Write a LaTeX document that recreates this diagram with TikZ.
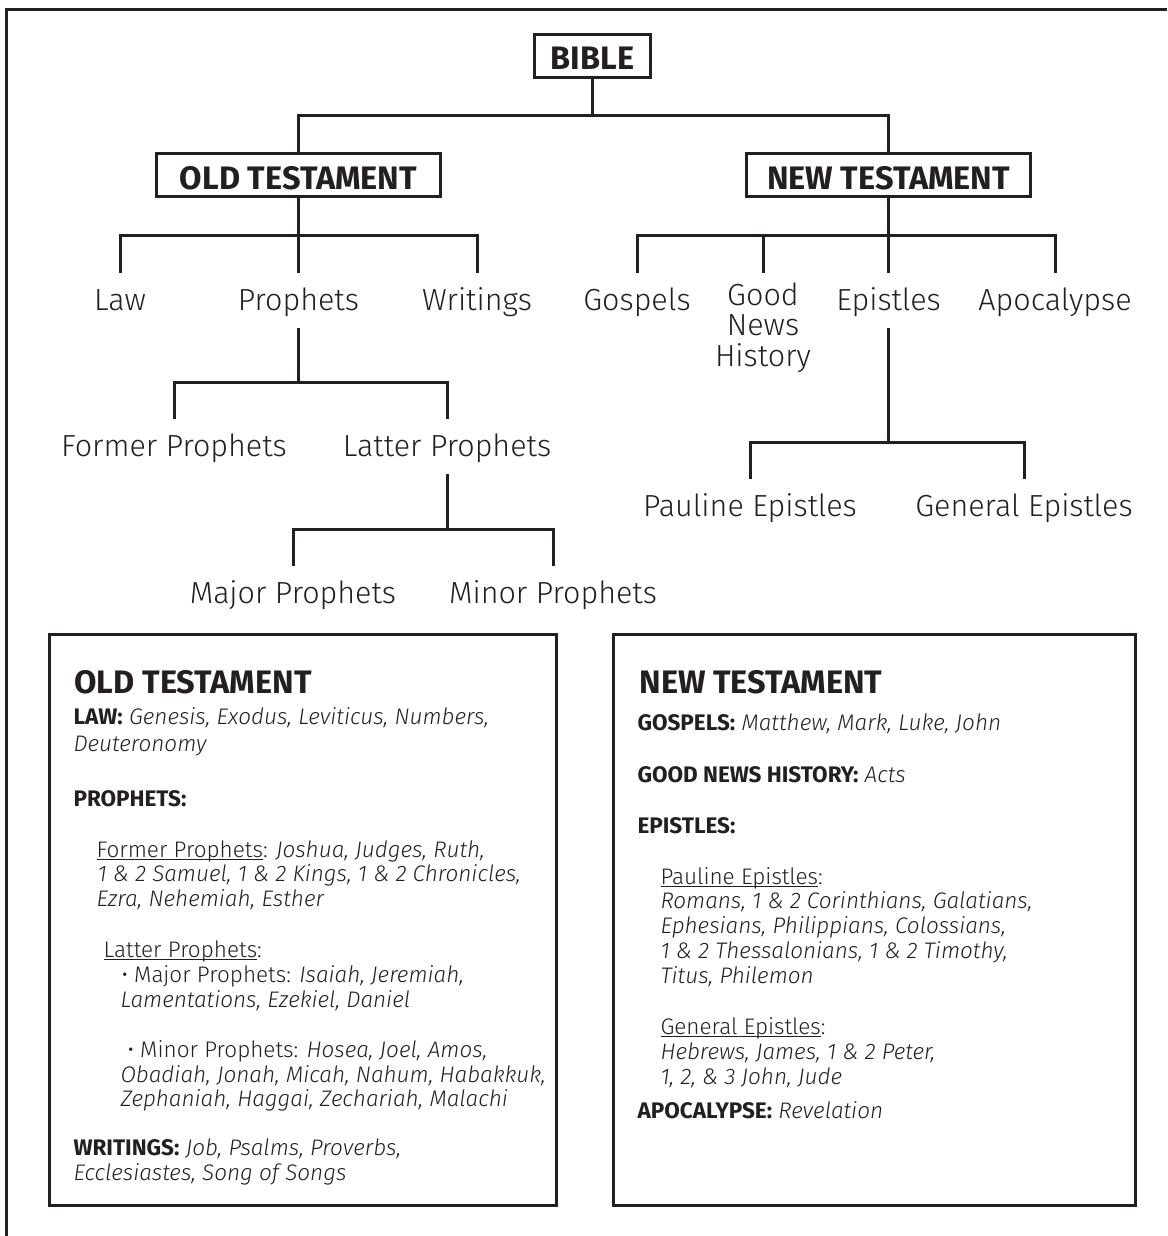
\documentclass[tikz,border=0pt]{standalone}
\usepackage{fontspec}
\setmainfont{Fira Sans}[UprightFont={* Light}, ItalicFont={* Light Italic}, BoldFont={* Bold}, BoldItalicFont={* Bold Italic}]
\definecolor{ink}{RGB}{35,31,32}
\newcommand\ulline[1]{\setbox0\hbox{#1}\rlap{\rule[-3pt]{\wd0}{1.4pt}}\box0}
\begin{document}
\begin{tikzpicture}[x=1pt,y=-1pt, ink, line width=3pt,
  tbox/.style={draw, line width=3pt, inner sep=0pt, text height=28pt, text depth=0pt, font=\bfseries\fontsize{32.5}{32}\selectfont},
  lbl/.style={anchor=north, inner xsep=0pt, inner ysep=14pt, text height=22pt, text depth=2pt, font=\fontsize{30.5}{31}\selectfont},
  body/.style={anchor=base west, inner sep=0pt, font=\fontsize{22.5}{25}\selectfont},
  hdr/.style={anchor=base west, inner sep=0pt, font=\bfseries\fontsize{32.5}{32}\selectfont},
  panel/.style={draw, line width=3pt, inner sep=0pt}]
\useasboundingbox (0,0) rectangle (1167,1236);
% outer frame (cropped)
\draw (6.5,1236) |- (1167,9.5);
% branch levels
\coordinate (y1) at (0,116);
\coordinate (y2) at (0,235);
\coordinate (y3) at (0,382);
\coordinate (y4) at (0,529);
\coordinate (y5) at (0,442);
% boxes
\node[tbox, minimum width=116pt, minimum height=43pt] (bible) at (592.5,56) {BIBLE};
\node[tbox, minimum width=284pt, minimum height=43pt] (ot) at (298.5,175) {OLD TESTAMENT};
\node[tbox, minimum width=284pt, minimum height=43pt] (nt) at (888.5,175) {NEW TESTAMENT};
% labels
\node[lbl] (law) at (120,273) {Law};
\node[lbl] (prophets) at (298.5,273) {Prophets};
\node[lbl] (writings) at (477,273) {Writings};
\node[lbl] (gospels) at (637,273) {Gospels};
\node[anchor=north, inner xsep=0pt, inner ysep=8pt, align=center, font=\fontsize{30.5}{30.5}\selectfont] (goodnews) at (763,273) {Good\\News\\History};
\node[lbl] (epistles) at (888.5,273) {Epistles};
\node[lbl] (apoc) at (1055,273) {Apocalypse};
\node[lbl] (former) at (174,419) {Former Prophets};
\node[lbl] (latter) at (447,419) {Latter Prophets};
\node[lbl] (major) at (293,566) {Major Prophets};
\node[lbl] (minor) at (553,566) {Minor Prophets};
\node[lbl] (pauline) at (750,479) {Pauline Epistles};
\node[lbl] (general) at (1024,479) {General Epistles};
% connectors
\draw (bible.south) -- (bible.south |- y1);
\draw (ot.north) |- (nt.north |- y1) -- (nt.north);
\draw (ot.south) -- (ot.south |- y2);
\draw (law.north) |- (writings.north |- y2) -- (writings.north);
\draw (prophets.north) -- (prophets.north |- y2);
\draw (nt.south) -- (nt.south |- y2);
\draw (gospels.north) |- (apoc.north |- y2) -- (apoc.north);
\draw (goodnews.north) -- (goodnews.north |- y2);
\draw (epistles.north) -- (epistles.north |- y2);
\draw (prophets.south) -- (prophets.south |- y3);
\draw (former.north) |- (latter.north |- y3) -- (latter.north);
\draw (latter.south) -- (latter.south |- y4);
\draw (major.north) |- (minor.north |- y4) -- (minor.north);
\draw (epistles.south) -- (epistles.south |- y5);
\draw (pauline.north) |- (general.north |- y5) -- (general.north);
% panels
\node[panel, minimum width=507pt, minimum height=571pt] (otpanel) at (303,920) {};
\node[panel, minimum width=522pt, minimum height=571pt] (ntpanel) at (874.5,920) {};
% left panel text
\node[hdr] (lh) at (73,693) {OLD TESTAMENT};
\node[body] (l1) at (72,724) {\textbf{LAW:} \textit{Genesis, Exodus, Leviticus, Numbers,}};
\node[body] (l2) at (72,751) {\textit{Deuteronomy}};
\node[body] (l3) at (72,806) {\textbf{PROPHETS:}};
\node[body] (l4) at (95,857) {\ulline{Former Prophets}: \textit{Joshua, Judges, Ruth,}};
\node[body] (l5) at (96,881) {\textit{1 \& 2 Samuel, 1 \& 2 Kings, 1 \& 2 Chronicles,}};
\node[body] (l6) at (95,906) {\textit{Ezra, Nehemiah, Esther}};
\node[body] (l7) at (102,957) {\ulline{Latter Prophets}:};
\node[body] (l8) at (120,982) {\textbullet\ Major Prophets: \textit{Isaiah, Jeremiah,}};
\node[body] (l9) at (119,1007) {\textit{Lamentations, Ezekiel, Daniel}};
\node[body] (l10) at (126,1057) {\textbullet\ Minor Prophets: \textit{Hosea, Joel, Amos,}};
\node[body] (l11) at (119,1082) {\textit{Obadiah, Jonah, Micah, Nahum, Habakkuk,}};
\node[body] (l12) at (119,1106) {\textit{Zephaniah, Haggai, Zechariah, Malachi}};
\node[body] (l13) at (72,1155) {\textbf{WRITINGS:} \textit{Job, Psalms, Proverbs,}};
\node[body] (l14) at (72,1180) {\textit{Ecclesiastes, Song of Songs}};
% right panel text
\node[hdr] (rh) at (638,693) {NEW TESTAMENT};
\node[body] (r1) at (636,730) {\textbf{GOSPELS:} \textit{Matthew, Mark, Luke, John}};
\node[body] (r2) at (636,782) {\textbf{GOOD NEWS HISTORY:} \textit{Acts}};
\node[body] (r3) at (636,833) {\textbf{EPISTLES:}};
\node[body] (r4) at (659,884) {\ulline{Pauline Epistles}:};
\node[body] (r5) at (659,908) {\textit{Romans, 1 \& 2 Corinthians, Galatians,}};
\node[body] (r6) at (659,933) {\textit{Ephesians, Philippians, Colossians,}};
\node[body] (r7) at (659,958) {\textit{1 \& 2 Thessalonians, 1 \& 2 Timothy,}};
\node[body] (r8) at (659,983) {\textit{Titus, Philemon}};
\node[body] (r9) at (659,1034) {\ulline{General Epistles}:};
\node[body] (r10) at (659,1059) {\textit{Hebrews, James, 1 \& 2 Peter,}};
\node[body] (r11) at (659,1084) {\textit{1, 2, \& 3 John, Jude}};
\node[body] (r12) at (636,1118) {\textbf{APOCALYPSE:} \textit{Revelation}};
\end{tikzpicture}
\end{document}
